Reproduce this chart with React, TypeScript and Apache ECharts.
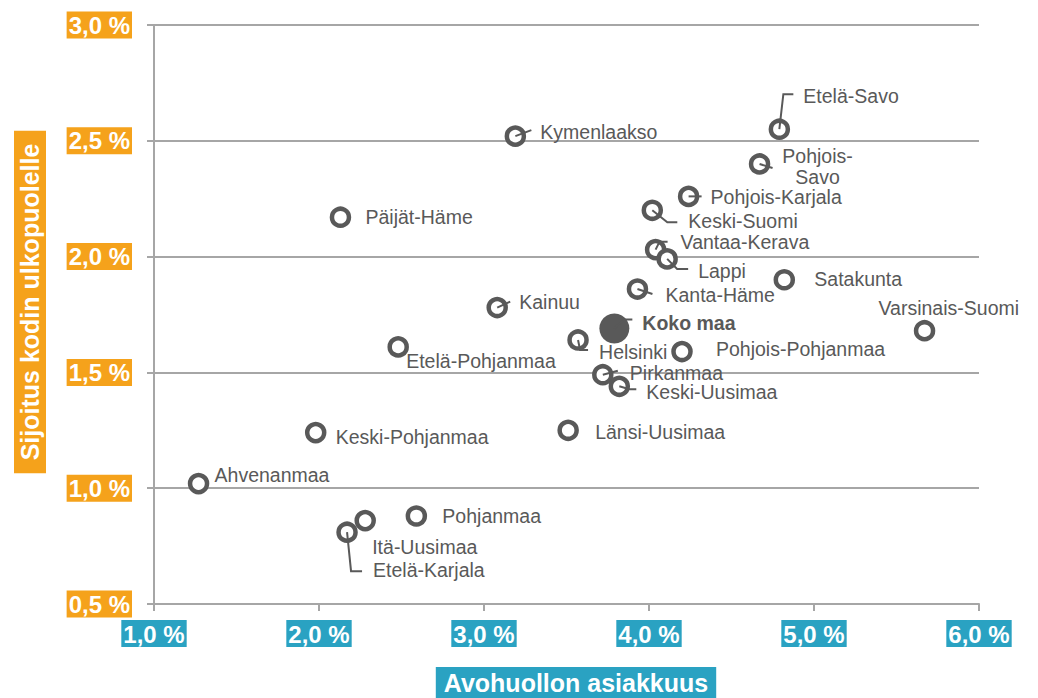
import React, { useEffect, useRef } from "react";
import * as echarts from "echarts";

// ---- data ----
const regions = [
  "Etelä-Savo", "Kymenlaakso", "Pohjois-Savo", "Pohjois-Karjala", "Keski-Suomi",
  "Päijät-Häme", "Vantaa-Kerava", "Lappi", "Satakunta", "Kanta-Häme",
  "Kainuu", "Varsinais-Suomi", "Helsinki", "Etelä-Pohjanmaa", "Pohjois-Pohjanmaa",
  "Pirkanmaa", "Keski-Uusimaa", "Länsi-Uusimaa", "Keski-Pohjanmaa", "Ahvenanmaa",
  "Pohjanmaa", "Itä-Uusimaa", "Etelä-Karjala", "Koko maa",
];
// Avohuollon asiakkuus (%)
const avohuolto = [
  4.79, 3.19, 4.67, 4.24, 4.02,
  2.13, 4.04, 4.11, 4.82, 3.93,
  3.08, 5.67, 3.57, 2.48, 4.20,
  3.72, 3.82, 3.51, 1.98, 1.27,
  2.59, 2.28, 2.17, 3.79,
];
// Sijoitus kodin ulkopuolelle (%)
const sijoitus = [
  2.55, 2.52, 2.40, 2.26, 2.20,
  2.17, 2.03, 1.99, 1.90, 1.86,
  1.78, 1.68, 1.64, 1.61, 1.59,
  1.49, 1.44, 1.25, 1.24, 1.02,
  0.88, 0.86, 0.81, 1.69,
];
const xTicks = [1, 2, 3, 4, 5, 6];
const yTicks = [0.5, 1.0, 1.5, 2.0, 2.5, 3.0];
const xTitle = "Avohuollon asiakkuus";
const yTitle = "Sijoitus kodin ulkopuolelle";

// ---- label styling (pixel offsets from point centre) ----
const labelText: Record<string, string> = { "Pohjois-Savo": "Pohjois-\nSavo" };
const labelPos: Record<string, [number, number, string]> = {
  "Etelä-Savo": [24, -33, "left"],
  "Kymenlaakso": [25, -4, "left"],
  "Pohjois-Savo": [58, 3, "center"],
  "Pohjois-Karjala": [22, 1, "left"],
  "Keski-Suomi": [36, 11, "left"],
  "Päijät-Häme": [25, 0, "left"],
  "Vantaa-Kerava": [25, -8, "left"],
  "Lappi": [31, 12, "left"],
  "Satakunta": [30, -1, "left"],
  "Kanta-Häme": [28, 6, "left"],
  "Kainuu": [22, -6, "left"],
  "Varsinais-Suomi": [-46, -23, "left"],
  "Helsinki": [21, 12, "left"],
  "Etelä-Pohjanmaa": [8, 14, "left"],
  "Pohjois-Pohjanmaa": [34, -3, "left"],
  "Pirkanmaa": [27, -2, "left"],
  "Keski-Uusimaa": [27, 6, "left"],
  "Länsi-Uusimaa": [27, 2, "left"],
  "Keski-Pohjanmaa": [20, 4, "left"],
  "Ahvenanmaa": [16, -9, "left"],
  "Pohjanmaa": [26, 0, "left"],
  "Itä-Uusimaa": [7, 26, "left"],
  "Etelä-Karjala": [26, 38, "left"],
  "Koko maa": [28, -5, "left"],
};
const leaders: Record<string, number[][]> = {
  "Etelä-Savo": [[4, -35], [14, -35]],
  "Kymenlaakso": [[16, -6]],
  "Pohjois-Savo": [[13, 4]],
  "Pohjois-Karjala": [[13, 0]],
  "Keski-Suomi": [[15, 12], [25, 12]],
  "Vantaa-Kerava": [[4, -8], [12, -8]],
  "Lappi": [[10, 10], [21, 10]],
  "Kanta-Häme": [[15, 5]],
  "Kainuu": [[13, -6]],
  "Helsinki": [[2, 10], [10, 10]],
  "Pirkanmaa": [[15, -4]],
  "Keski-Uusimaa": [[10, 3], [17, 3]],
  "Etelä-Karjala": [[4, 39], [15, 39]],
  "Koko maa": [[10, -9], [18, -9]],
};

const ORANGE = "#F5A21B";
const TEAL = "#2AA2C2";
const DARK = "#595959";
const GRID = "#A6A6A6";
const FONT = "'Liberation Sans', Arial, sans-serif";

const fmt = (v: number) => v.toFixed(1).replace(".", ",") + " %";

export default function App() {
  const ref = useRef<HTMLDivElement>(null);
  useEffect(() => {
    document.body.style.margin = "0";
    const chart = echarts.init(ref.current!, null, { renderer: "svg" });
    const data = regions.map((n, i) => [avohuolto[i], sijoitus[i], n]);
    const option: any = {
      animation: false,
      backgroundColor: "#fff",
      grid: { left: 154, right: 59, top: 25, bottom: 94, containLabel: false },
      xAxis: {
        type: "value",
        min: xTicks[0],
        max: xTicks[xTicks.length - 1],
        interval: 1,
        axisLine: { show: true, lineStyle: { color: GRID, width: 2 } },
        axisTick: { show: true, length: 7, lineStyle: { color: GRID, width: 2 } },
        splitLine: { show: false },
        axisLabel: {
          formatter: fmt,
          color: "#fff",
          fontFamily: FONT,
          fontWeight: "bold",
          fontSize: 24,
          backgroundColor: TEAL,
          padding: [2, 2, 1, 2],
          margin: 16,
        },
      },
      yAxis: {
        type: "value",
        min: yTicks[0],
        max: yTicks[yTicks.length - 1],
        interval: 0.5,
        axisLine: { show: true, lineStyle: { color: GRID, width: 2 } },
        axisTick: { show: true, length: 7, lineStyle: { color: GRID, width: 2 } },
        splitLine: { show: true, lineStyle: { color: GRID, width: 2 } },
        axisLabel: {
          formatter: fmt,
          color: "#fff",
          fontFamily: FONT,
          fontWeight: "bold",
          fontSize: 24,
          backgroundColor: ORANGE,
          padding: [2, 2, 1, 2],
          margin: 22,
        },
      },
      graphic: [
        {
          type: "text",
          x: 30,
          y: 302,
          rotation: Math.PI / 2,
          style: {
            text: yTitle,
            fill: "#fff",
            fontFamily: FONT,
            fontWeight: "bold",
            fontSize: 25,
            backgroundColor: ORANGE,
            padding: [4, 13, 3, 13],
            align: "center",
            verticalAlign: "middle",
          },
        },
        {
          type: "text",
          x: 576,
          y: 683,
          style: {
            text: xTitle,
            fill: "#fff",
            fontFamily: FONT,
            fontWeight: "bold",
            fontSize: 25,
            backgroundColor: TEAL,
            padding: [4, 8, 3, 8],
            align: "center",
            verticalAlign: "middle",
          },
        },
      ],
      series: [
        {
          type: "custom",
          coordinateSystem: "cartesian2d",
          data,
          clip: false,
          encode: { x: 0, y: 1 },
          renderItem: (params: any, api: any) => {
            const i = params.dataIndex;
            const name = regions[i];
            const p = api.coord([api.value(0), api.value(1)]);
            const total = name === "Koko maa";
            const children: any[] = [];
            children.push(
              total
                ? { type: "circle", shape: { cx: p[0], cy: p[1], r: 15 }, style: { fill: DARK } }
                : {
                    type: "circle",
                    shape: { cx: p[0], cy: p[1], r: 8.5 },
                    style: { fill: "#fff", stroke: DARK, lineWidth: 4.5 },
                  }
            );
            const ld = leaders[name];
            if (ld) {
              children.push({
                type: "polyline",
                shape: { points: [[p[0], p[1]], ...ld.map(([a, b]) => [p[0] + a, p[1] + b])] },
                style: { stroke: DARK, lineWidth: 2, fill: null },
              });
            }
            const [dx, dy, align] = labelPos[name];
            children.push({
              type: "text",
              x: p[0] + dx,
              y: p[1] + dy,
              style: {
                text: labelText[name] || name,
                fill: DARK,
                fontFamily: FONT,
                fontSize: 19.5,
                fontWeight: total ? "bold" : "normal",
                align,
                verticalAlign: "middle",
                lineHeight: 21,
              },
            });
            return { type: "group", children };
          },
        },
      ],
    };
    chart.setOption(option);
    return () => chart.dispose();
  }, []);
  return <div ref={ref} style={{ width: 1038, height: 698 }} />;
}
